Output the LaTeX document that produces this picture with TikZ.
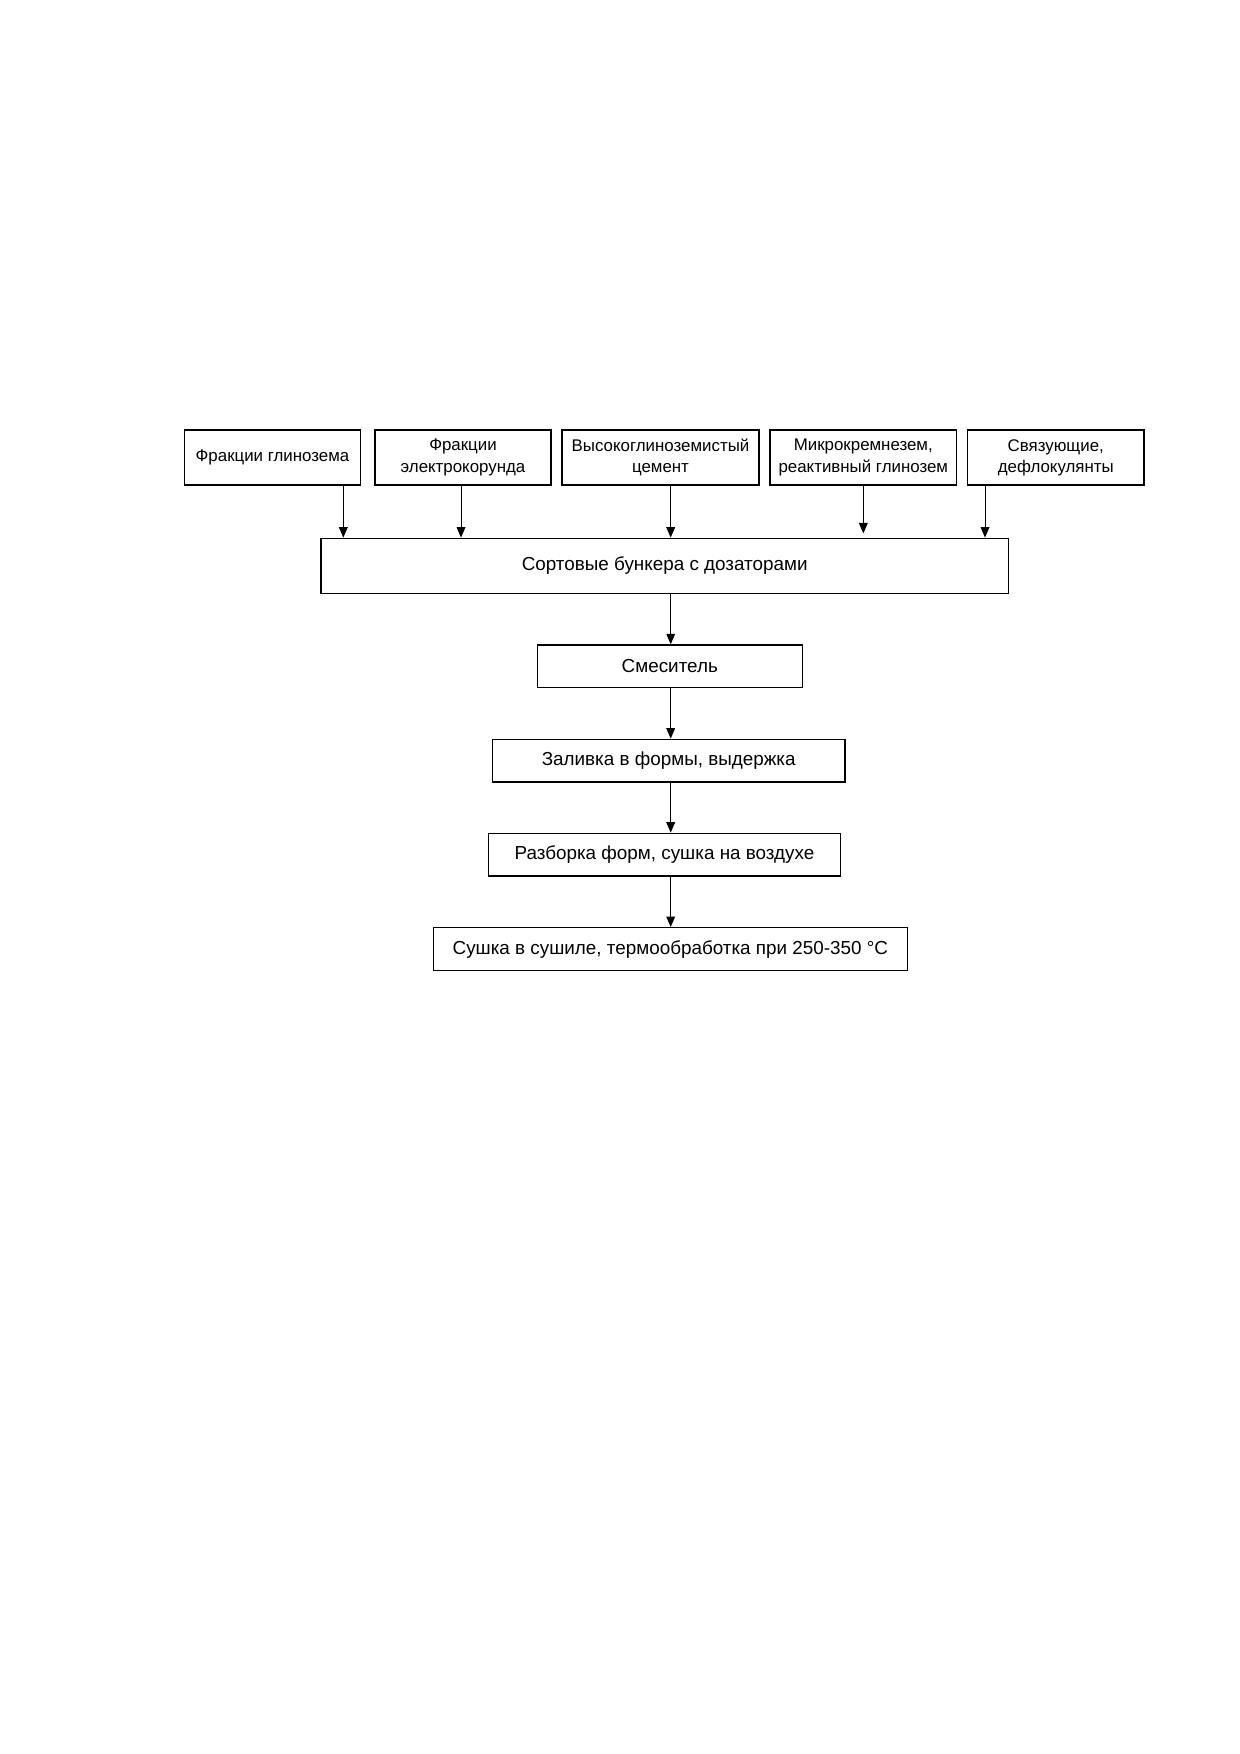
\documentclass[tikz,border=0pt]{standalone}
\usepackage{fontspec}
\setmainfont{Liberation Sans}
\usetikzlibrary{arrows.meta}
\begin{document}
\begin{tikzpicture}[x=0.48pt,y=-0.48pt,
  topbox/.style={draw, line width=0.7pt, inner sep=0pt, align=center,
    minimum height=55*0.48pt, font=\fontsize{8.1}{10.2}\selectfont},
  procbox/.style={draw, line width=0.7pt, inner sep=0pt, align=center,
    font=\fontsize{9.05}{11}\selectfont},
  arr/.style={line width=0.45pt, -{Triangle[length=5pt,width=4.2pt]}}]
\useasboundingbox (0,0) rectangle (1240,1754);
\node[topbox, minimum width=176.4*0.48pt] (b1) at (272.5,457.5) {Фракции глинозема};
\node[topbox, minimum width=176*0.48pt] (b2) at (463,457.5) {Фракции\\электрокорунда};
\node[topbox, minimum width=197*0.48pt] (b3) at (660.5,457.5) {Высокоглиноземистый\\цемент};
\node[topbox, minimum width=186.7*0.48pt] (b4) at (863.3,457.5) {Микрокремнезем,\\реактивный глинозем};
\node[topbox, minimum width=176.3*0.48pt] (b5) at (1055.8,457.5) {Связующие,\\дефлокулянты};
\node[procbox, minimum width=687.3*0.48pt, minimum height=55*0.48pt] (big) at (664.7,565.8) {Сортовые бункера с дозаторами};
\node[procbox, minimum width=265*0.48pt, minimum height=42.7*0.48pt] (smes) at (669.8,666.3) {Смеситель};
\node[procbox, minimum width=352.7*0.48pt, minimum height=42.7*0.48pt] (zal) at (668.7,760.7) {Заливка в формы, выдержка};
\node[procbox, minimum width=352.4*0.48pt, minimum height=42.7*0.48pt] (razb) at (664.5,854.7) {Разборка форм, сушка на воздухе};
\node[procbox, minimum width=474*0.48pt, minimum height=43*0.48pt] (sush) at (670.3,949.2) {Сушка в сушиле, термообработка при 250-350 °C};
\draw[arr] (b1.south -| 343.3,0) -- (big.north -| 343.3,0);
\draw[arr] (b2.south -| 461,0) -- (big.north -| 461,0);
\draw[arr] (b3.south -| 670.7,0) -- (big.north -| 670.7,0);
\draw[arr] (b4.south -| 863.3,0) -- ([yshift=2pt]big.north -| 863.3,0);
\draw[arr] (b5.south -| 985,0) -- (big.north -| 985,0);
\draw[arr] (big.south -| 670.7,0) -- (smes.north -| 670.7,0);
\draw[arr] (smes.south -| 670.7,0) -- (zal.north -| 670.7,0);
\draw[arr] (zal.south -| 670.7,0) -- (razb.north -| 670.7,0);
\draw[arr] (razb.south -| 670.7,0) -- (sush.north -| 670.7,0);
\end{tikzpicture}
\end{document}
